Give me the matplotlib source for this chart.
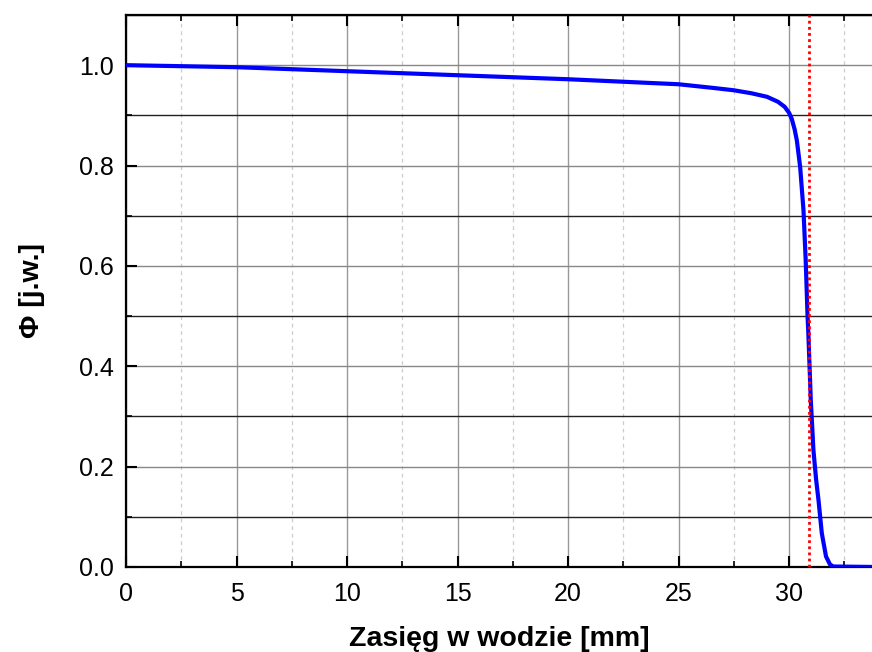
import matplotlib
matplotlib.use("Agg")
import matplotlib.pyplot as plt
from matplotlib.ticker import MultipleLocator

plt.rcParams['font.family'] = ['Liberation Sans', 'DejaVu Sans']

# range in water [mm] and relative fluence
depth = [0, 5, 10, 15, 20, 25, 26.5, 27.5, 28.3, 29, 29.5, 29.8, 30.0, 30.12,
         30.25, 30.35, 30.5, 30.65, 30.75, 30.83, 30.87, 30.98, 31.10, 31.22,
         31.33, 31.48, 31.67, 31.85, 32.0, 34.0]
phi = [1.0, 0.996, 0.988, 0.980, 0.972, 0.962, 0.955, 0.950, 0.944, 0.937,
       0.927, 0.917, 0.905, 0.893, 0.872, 0.850, 0.797, 0.711, 0.612, 0.505,
       0.466, 0.333, 0.233, 0.175, 0.133, 0.067, 0.021, 0.005, 0.001, 0.0]
range_marker = 30.9

fig = plt.figure(figsize=(8.72, 6.52), dpi=100)
ax = fig.add_axes([126 / 872, 1 - 567 / 652, 1 - 126 / 872, (567 - 15) / 652])

ax.set_xlim(0, 33.75)
ax.set_ylim(0, 1.1)

ax.xaxis.set_major_locator(MultipleLocator(5))
ax.xaxis.set_minor_locator(MultipleLocator(2.5))
ax.yaxis.set_major_locator(MultipleLocator(0.2))
ax.yaxis.set_minor_locator(MultipleLocator(0.1))

# grid
ax.grid(which='major', axis='x', color='#999999', lw=1.0, ls='-')
ax.grid(which='minor', axis='x', color='#cccccc', lw=0.9, ls=(0, (3, 3)))
ax.grid(which='major', axis='y', color='#888888', lw=1.0, ls='-')
ax.grid(which='minor', axis='y', color='#222222', lw=1.0, ls='-')
ax.set_axisbelow(True)

ax.plot(depth, phi, color='#0000ff', lw=3.0, solid_capstyle='round',
        solid_joinstyle='round', zorder=3)
ax.axvline(range_marker, color='#ff0000', lw=2.0, ls=(0, (1, 1.2)), zorder=4)

ax.spines['right'].set_visible(False)
for s in ['left', 'bottom', 'top']:
    ax.spines[s].set_linewidth(1.6)

ax.tick_params(which='major', direction='in', length=8, width=1.5,
               labelsize=18, top=True, right=False)
ax.tick_params(which='minor', direction='in', length=4.5, width=1.2,
               top=True, right=False)
ax.tick_params(axis='x', which='major', pad=11)
ax.tick_params(axis='y', which='major', pad=9)
ax.yaxis.set_major_formatter(plt.FuncFormatter(lambda v, p: f"{v:.1f}"))

ax.set_xlabel('Zasięg w wodzie [mm]', fontsize=20.5, fontweight='bold', labelpad=14)
ax.set_ylabel('Φ [j.w.]', fontsize=20.5, fontweight='bold', labelpad=24)

fig.savefig('out.png', dpi=100)
